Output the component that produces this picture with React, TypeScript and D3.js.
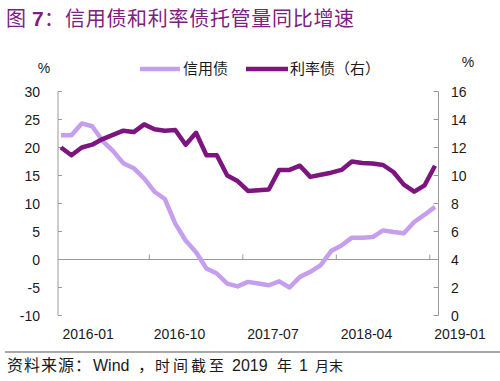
import React from "react";
import * as d3 from "d3";

const months: string[] = [
  "2016-01","2016-02","2016-03","2016-04","2016-05","2016-06","2016-07","2016-08","2016-09","2016-10","2016-11","2016-12",
  "2017-01","2017-02","2017-03","2017-04","2017-05","2017-06","2017-07","2017-08","2017-09","2017-10","2017-11","2017-12",
  "2018-01","2018-02","2018-03","2018-04","2018-05","2018-06","2018-07","2018-08","2018-09","2018-10","2018-11","2018-12",
  "2019-01",
];
const creditBond: number[] = [
  22.2, 22.2, 24.3, 23.8, 21.2, 19.4, 17.2, 16.3, 14.5, 12.1, 10.8, 6.4,
  3.4, 1.3, -1.6, -2.5, -4.3, -4.8, -4.0, -4.3, -4.6, -3.9, -5.0, -3.1,
  -2.2, -1.0, 1.5, 2.5, 3.9, 3.9, 4.0, 5.2, 4.9, 4.7, 6.7, 8.0,
  9.4,
];
const rateBond: number[] = [
  12.0, 11.45, 12.0, 12.2, 12.6, 12.9, 13.2, 13.1, 13.65, 13.3, 13.2, 13.25,
  12.2, 13.05, 11.45, 11.45, 10.0, 9.6, 8.9, 8.95, 9.0, 10.4, 10.4, 10.7,
  9.9, 10.05, 10.2, 10.4, 11.0, 10.9, 10.85, 10.75, 10.25, 9.35, 8.85, 9.3,
  10.7,
];
const leftTicks: number[] = [30, 25, 20, 15, 10, 5, 0, -5, -10];
const rightTicks: number[] = [16, 14, 12, 10, 8, 6, 4, 2, 0];
const xLabels: string[] = ["2016-01", "2016-10", "2017-07", "2018-04", "2019-01"];
const seriesNames: string[] = ["信用债", "利率债（右）"];

const LIGHT = "#C59EED";
const DARK = "#7C1580";
const AXIS = "#9a9a9a";
const TXT = "#1a1a1a";
const NUMFONT = "'Liberation Sans', Arial, sans-serif";
const CJK = "'Noto Sans CJK SC', sans-serif";

export default function App() {
  const x = d3.scalePoint<string>().domain(months).range([61, 435]);
  const step = x.step();
  const yL = d3.scaleLinear().domain([-10, 30]).range([315.5, 91.5]);
  const yR = d3.scaleLinear().domain([0, 16]).range([315.5, 91.5]);
  const lineL = d3
    .line<number>()
    .x((_, i) => x(months[i]) as number)
    .y((d) => yL(d));
  const lineR = d3
    .line<number>()
    .x((_, i) => x(months[i]) as number)
    .y((d) => yR(d));
  const axL = 58;
  const axR = 438.5;
  const y0 = yL(0);

  return (
    <svg
      width={500}
      height={381}
      style={{ position: "absolute", left: 0, top: 0, background: "#fff" }}
    >
      {/* title */}
      <text y={26} fill="#7E2080" fontSize={20} fontFamily={CJK}>
        <tspan x={6}>图</tspan>
        <tspan x={32} fontFamily={NUMFONT} fontWeight="bold" fontSize={21}>7</tspan>
        <tspan x={44}>：</tspan>
        <tspan x={65} letterSpacing={0.7}>信用债和利率债托管量同比增速</tspan>
      </text>

      {/* legend */}
      <line x1={140} x2={180} y1={69} y2={69} stroke={LIGHT} strokeWidth={4.5} />
      <text x={183} y={74} fontSize={15} fontFamily={CJK} fill={TXT}>{seriesNames[0]}</text>
      <line x1={246} x2={288} y1={69} y2={69} stroke={DARK} strokeWidth={4.5} />
      <text x={290} y={74} fontSize={15} fontFamily={CJK} fill={TXT}>{seriesNames[1]}</text>

      {/* unit labels */}
      <text x={44} y={73} textAnchor="middle" fontSize={14} fontFamily={NUMFONT} fill={TXT}>%</text>
      <text x={468} y={67} textAnchor="middle" fontSize={14} fontFamily={NUMFONT} fill={TXT}>%</text>

      {/* left axis */}
      <line x1={axL} x2={axL} y1={yL(30)} y2={yL(-10)} stroke={AXIS} strokeWidth={1} />
      {leftTicks.map((t) => (
        <g key={"l" + t}>
          <line x1={axL} x2={axL + 4} y1={yL(t)} y2={yL(t)} stroke={AXIS} />
          <text x={40} y={yL(t) + 5} textAnchor="end" fontSize={14} fontFamily={NUMFONT} fill={TXT}>
            {t}
          </text>
        </g>
      ))}

      {/* right axis */}
      <line x1={axR} x2={axR} y1={yR(16)} y2={yR(0)} stroke={AXIS} strokeWidth={1} />
      {rightTicks.map((t) => (
        <g key={"r" + t}>
          <line x1={axR - 5} x2={axR} y1={yR(t)} y2={yR(t)} stroke={AXIS} />
          <text x={451} y={yR(t) + 5} textAnchor="start" fontSize={14} fontFamily={NUMFONT} fill={TXT}>
            {t}
          </text>
        </g>
      ))}

      {/* zero line / category axis */}
      <line x1={axL} x2={axR} y1={y0} y2={y0} stroke={AXIS} strokeWidth={1} />
      {xLabels.map((m, k) => {
        const tx = (x(m) as number) - step / 2;
        return (
          <g key={m}>
            {k > 0 && <line x1={tx} x2={tx} y1={y0} y2={y0 - 5} stroke={AXIS} />}
            <text x={Math.max(tx, axL) + 4.5} y={339} fontSize={14} fontFamily={NUMFONT} fill={TXT}>
              {m}
            </text>
          </g>
        );
      })}

      {/* series */}
      <path d={lineL(creditBond) || ""} fill="none" stroke={LIGHT} strokeWidth={4.5} strokeLinejoin="round" />
      <path d={lineR(rateBond) || ""} fill="none" stroke={DARK} strokeWidth={4.5} strokeLinejoin="round" />

      {/* footer */}
      <line x1={5} x2={500} y1={352} y2={352} stroke="#555" strokeWidth={1} />
      <text y={371} fontSize={16} fontFamily={CJK} fill={TXT}>
        <tspan x={7} letterSpacing={1}>资料来源：</tspan>
        <tspan x={93} fontFamily={NUMFONT} fontSize={16}>Wind</tspan>
        <tspan x={138}>，</tspan>
        <tspan x={155} fontSize={15} letterSpacing={3}>时间截至</tspan>
        <tspan x={232} fontFamily={NUMFONT} fontSize={16}>2019</tspan>
        <tspan x={277} fontSize={15}>年</tspan>
        <tspan x={299} fontFamily={NUMFONT} fontSize={16}>1</tspan>
        <tspan x={315} fontSize={14}>月末</tspan>
      </text>
    </svg>
  );
}
